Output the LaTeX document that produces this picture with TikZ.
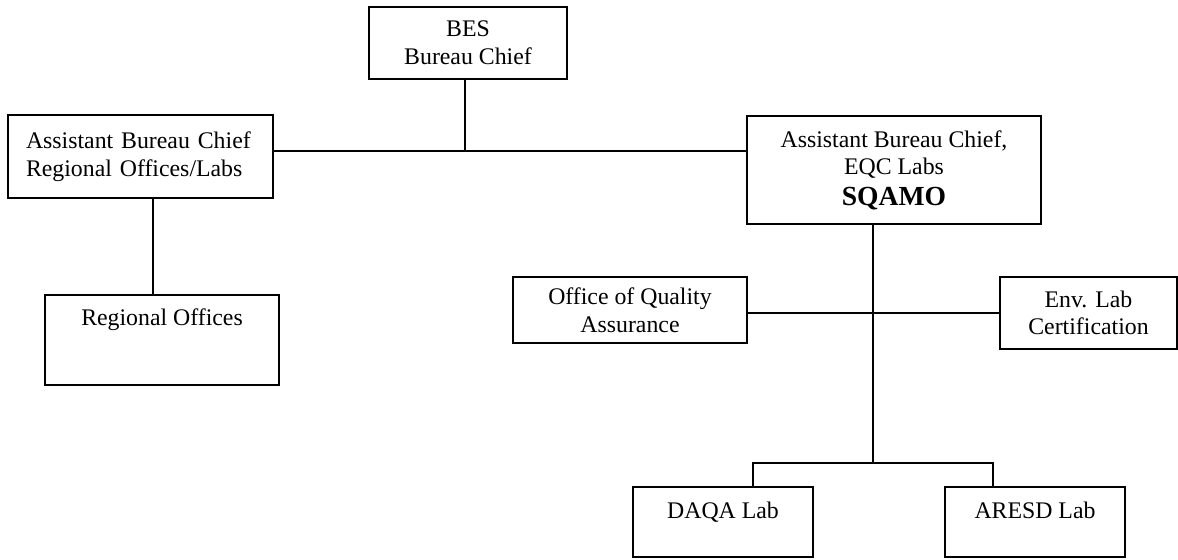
\documentclass[tikz,border=0pt]{standalone}
\usepackage{fontspec}
\setmainfont{Liberation Serif}
\usepackage{tikz}
\tikzset{
    orgbox/.style={draw=black, line width=1pt, align=center, inner sep=0pt,
                   font=\fontsize{11.9}{13.8}\selectfont},
    link/.style={line width=1pt}
}

\begin{document}
\begin{tikzpicture}[x=0.5pt, y=-0.5pt]
    \useasboundingbox (0,0) rectangle (1178,559);

    \node [orgbox, minimum width=99pt, minimum height=36pt] (bes) at (468,43)
            {BES\\Bureau Chief};
    \node [orgbox, minimum width=132.5pt, minimum height=41.5pt, text width=114.5pt,
           align=left] (abcr) at (140.5,156.5)
            {Assistant Bureau Chief\\Regional Offices/Labs};
    \node [orgbox, minimum width=147pt, minimum height=54pt] (sqamo) at (894,170)
            {Assistant Bureau Chief,\\EQC Labs\\[1.5pt]{\fontsize{13.8}{15}\selectfont\bfseries SQAMO}};
    \node [orgbox, minimum width=117pt, minimum height=45pt, text height=8.5pt,
           text depth=23.5pt] (regoff) at (162,340) {Regional Offices};
    \node [orgbox, minimum width=117pt, minimum height=33pt] (oqa) at (630,310)
            {Office of Quality\\Assurance};
    \node [orgbox, minimum width=88.5pt, minimum height=36pt] (envlab) at (1088.5,313)
            {Env. Lab\\Certification};
    \node [orgbox, minimum width=90pt, minimum height=35pt, text height=8.5pt,
           text depth=12.5pt] (daqa) at (723,522) {DAQA Lab};
    \node [orgbox, minimum width=90pt, minimum height=35pt, text height=8.5pt,
           text depth=12.5pt] (aresd) at (1035,522) {ARESD Lab};

    \coordinate (hub) at (465,151);
    \coordinate (rodrop) at (153,250);
    \coordinate (spine) at (873,463);
    \coordinate (dl) at (753,463);
    \coordinate (dr) at (993,463);

    \draw [link] (hub |- bes.south) -- (hub);
    \draw [link] (abcr.east |- hub) -- (sqamo.west |- hub);
    \draw [link] (rodrop |- abcr.south) -- (rodrop |- regoff.north);
    \draw [link] (spine |- sqamo.south) -- (spine);
    \draw [link] (oqa.east |- envlab.west) -- (envlab.west);
    \draw [link] (dl |- daqa.north) -- (dl) -- (dr) -- (dr |- aresd.north);
\end{tikzpicture}
\end{document}
